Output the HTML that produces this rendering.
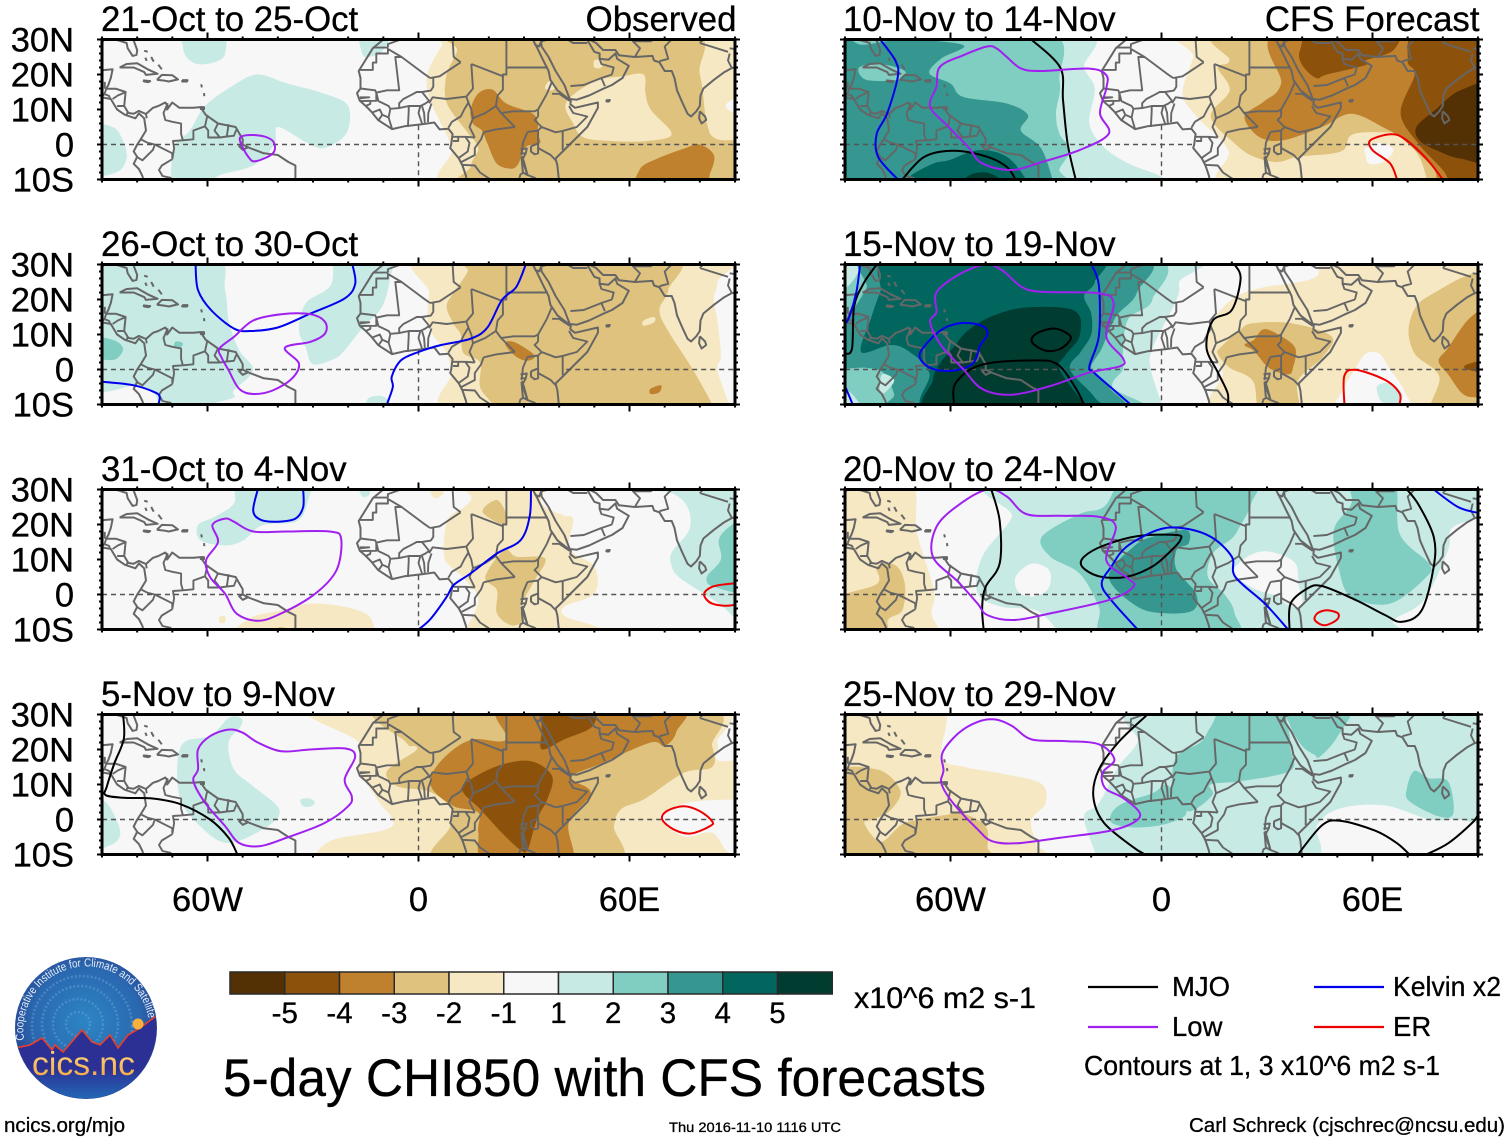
<!DOCTYPE html>
<html lang="en">
<head>
<meta charset="utf-8">
<title>5-day CHI850 with CFS forecasts</title>
<style>
html,body{margin:0;padding:0;background:#fff;}
svg{display:block;font-family:"Liberation Sans",sans-serif;}
text{stroke:#000;stroke-width:0.3px;}
</style>
</head>
<body>
<svg id="chart" xmlns="http://www.w3.org/2000/svg" width="1510" height="1142" viewBox="0 0 1510 1142">
<defs>
<clipPath id="panel-clip"><rect x="0" y="0" width="633" height="140"/></clipPath>
<clipPath id="logo-clip"><circle cx="86" cy="1028" r="70.5"/></clipPath>
<radialGradient id="logo-sky" cx="0.5" cy="0.45" r="0.58">
<stop offset="0" stop-color="#2c85c4"/><stop offset="0.65" stop-color="#2a68b0"/><stop offset="1" stop-color="#283c8c"/>
</radialGradient>
<linearGradient id="logo-low" x1="0" y1="0" x2="0" y2="1">
<stop offset="0" stop-color="#2c2f94"/><stop offset="0.55" stop-color="#2c2f94"/><stop offset="1" stop-color="#1f7cc2"/>
</linearGradient>
<linearGradient id="logo-word" x1="0" y1="0" x2="0" y2="1">
<stop offset="0" stop-color="#fde08a"/><stop offset="1" stop-color="#f2a13c"/>
</linearGradient>
<path id="logo-arc" d="M 24.2 1040 A 63 63 0 1 1 148.5 1019"/>
</defs>
<rect width="1510" height="1142" fill="#ffffff"/>
<g id="panels"></g>

<g id="colorbar"></g>
<text x="854" y="1008" font-size="30" textLength="182" lengthAdjust="spacingAndGlyphs">x10^6 m2 s-1</text>

<g>
<line x1="1088" y1="987" x2="1158" y2="987" stroke="#000" stroke-width="2.2"/>
<text x="1172" y="996" font-size="27.5">MJO</text>
<line x1="1314" y1="987" x2="1384" y2="987" stroke="#0000ee" stroke-width="2.2"/>
<text x="1393" y="996" font-size="27.5" textLength="108" lengthAdjust="spacingAndGlyphs">Kelvin x2</text>
<line x1="1088" y1="1027" x2="1158" y2="1027" stroke="#a020f0" stroke-width="2.2"/>
<text x="1172" y="1036" font-size="27.5">Low</text>
<line x1="1314" y1="1027" x2="1384" y2="1027" stroke="#ee0000" stroke-width="2.2"/>
<text x="1393" y="1036" font-size="27.5">ER</text>
<text x="1084" y="1075" font-size="27.5" textLength="356" lengthAdjust="spacingAndGlyphs">Contours at 1, 3 x10^6 m2 s-1</text>
</g>

<text x="223" y="1096" font-size="53" textLength="763" lengthAdjust="spacingAndGlyphs">5-day CHI850 with CFS forecasts</text>
<text x="4" y="1132" font-size="20.5" textLength="121" lengthAdjust="spacingAndGlyphs">ncics.org/mjo</text>
<text x="669" y="1132" font-size="13.5" textLength="172" lengthAdjust="spacingAndGlyphs">Thu 2016-11-10 1116 UTC</text>
<text x="1189" y="1132" font-size="20.5" textLength="316" lengthAdjust="spacingAndGlyphs">Carl Schreck (cjschrec@ncsu.edu)</text>

<g>
<circle cx="86" cy="1028" r="71" fill="url(#logo-sky)"/>
<g clip-path="url(#logo-clip)">
<g fill="none" stroke="#6fa9d8" stroke-width="2.5" stroke-dasharray="2 2" opacity="0.45">
<circle cx="78" cy="1024" r="12"/><circle cx="78" cy="1024" r="25"/><circle cx="80" cy="1024" r="38"/><circle cx="82" cy="1026" r="50"/>
</g>
<path d="M15 1048 L30 1045 L42 1038 L52 1050 L55 1045 L63 1052 L82 1030 L92 1042 L100 1045 L110 1035 L118 1048 L128 1035 L140 1028 L156 1016 L160 1110 L10 1110 Z" fill="url(#logo-low)"/>
<path d="M15 1048 L30 1045 L42 1038 L52 1050 L55 1045 L63 1052 L82 1030 L92 1042 L100 1045 L110 1035 L118 1048 L128 1035 L140 1028 L156 1016" fill="none" stroke="#e8402a" stroke-width="1.6"/>
<circle cx="138" cy="1024" r="5.5" fill="#fbb03b"/>
</g>
<text font-size="11.5" fill="#e6eef8" style="stroke:none"><textPath href="#logo-arc" textLength="202" lengthAdjust="spacingAndGlyphs">Cooperative Institute for Climate and Satellites</textPath></text>
<text x="32" y="1075" font-size="33" fill="url(#logo-word)" style="stroke:none" textLength="103" lengthAdjust="spacingAndGlyphs">cics.nc</text>
</g>
</svg>

<script>
// ---------- axes and labels ----------
const panelTitles = ["21-Oct to 25-Oct","26-Oct to 30-Oct","31-Oct to 4-Nov","5-Nov to 9-Nov","10-Nov to 14-Nov","15-Nov to 19-Nov","20-Nov to 24-Nov","25-Nov to 29-Nov"];
const latTicks = [30,20,10,0,-10];
const latTickLabels = ["30N","20N","10N","0","10S"];
const lonTicks = [-60,0,60];
const lonTickLabels = ["60W","0","60E"];
const colorLevels = [-5,-4,-3,-2,-1,0,1,2,3,4,5];
const colorValues = ["#543005","#8c510a","#bf812d","#dfc27d","#f6e8c3","#f7f7f7","#c7eae5","#80cdc1","#35978f","#01665e","#003c30"];
const colorbarLabels = ["-5","-4","-3","-2","-1","1","2","3","4","5"];
const seriesNames = ["mjo","kelvin","low","er"];
const seriesColors = ["#000000","#0000ee","#a020f0","#ee0000"];

// ---------- shading per panel: [level, [lon,lat,...]] painted in order ----------
const fillsA = [
[1,[-67,33,-56,33,-55,26,-58,23.5,-63,23,-66,25,-67,28]],
[1,[-69.5,-13,-69.5,-1,-65,4,-60.7,11,-52.5,17,-45.7,20,-37.5,17.5,-26.7,14.5,-20,11,-20.5,3.2,-26.7,-1,-32,0.7,-40,5,-41,0,-47,-6,-57,-9,-60,-13]],
[1,[-94,5,-87,5,-84,1,-83,-4,-86,-8,-94,-8]],
[1,[-16.5,33,-8,33,-10,27,-14,25,-16,26]],
[-1,[9.4,33,6.7,28.4,2.6,20.3,3.3,12.7,9.4,-0.7,12,-13,95,-13,95,33]],
[-2,[10,33,11,27,8,20,8,12,13.5,4,17,-1,15,-6,17,-13,95,-13,95,0,85,1.5,82,6,80,20,75,33]],
[-1,[42,12,50,18,58,19.5,64,20,64.5,15,66,10,72,3,65,1,55,1,47,2,44,6]],
[-1,[50,24,52,24,52,22,50,22]],
[-1,[37,18,39,17,38,15.5,36,16]],
[0,[93,14,88,12,88,10,93,8]],
[-3,[14.8,9.8,17,14.6,21,15.7,25,11.7,33,8.4,34,3,34.5,0.3,30.5,-0.7,28.4,-5.5,26.4,-6.9,22.3,-5.5,19.6,0.3,18,4,15.5,6]],
[-3,[63,-13,63,-7,68,-4,76,-1,80,0,84,-3,83,-8,80,-13]]
];
const fillsB = [
[1,[-94,33,-59,33,-55,22.7,-54,14,-51,5.5,-47,-0.2,-52.5,-6,-52.5,-8,-59,-10,-62,-13,-72,-13,-75,-7,-80,-4.5,-94,-3.5]],
[2,[-94,9,-87,8.5,-84,6,-86,3,-90,2.8,-94,3]],
[2,[-69,8,-67,7.5,-68,6,-69.5,6.5]],
[1,[-22.6,33,-8,33,-8,26.5,-10.3,18,-15.8,12,-21,5.5,-24,3,-30,1.5,-32,6,-34,11.5,-32,19,-25,24]],
[1,[-14.5,-13,-14.5,-8.5,-11,-7.5,-8.5,-9,-8,-13]],
[-1,[4,33,3,22,2.6,14,4,10,8,4.7,9.4,-1,12,-13,90,-13,88,-9,85,0,86,4,85,14,84,20,85,25,84,33]],
[-2,[15,33,14,28,10,22,8,18,10,13,12,10,12.8,4.7,17.5,2,17.5,-5,21,-10,21,-13,84,-13,83.5,-10,78,0,71,11,68.5,17,71,22.7,71,33]],
[-1,[64,14,67,15,67,13.5,64,12.5]],
[-3,[25,8,28,7.5,33,4,31,2.5,28,3.5,25,6.5]],
[-3,[66,-5.5,69,-4.5,68.5,-6.5,66,-7]]
];
const fillsC = [
[1,[-50.5,33,-32,33,-32,25,-35,20.8,-44.4,19.8,-49.8,15.5,-55,14,-62,15.5,-62.7,19.8,-58,22.2,-52.5,26]],
[1,[-17,31,-14,31,-14,28.5,-16,28]],
[1,[65,33,65,30,72,29,76.5,25,77,18.5,72,12,72,8,74,5,81,0.3,86,-3,90,-6.5,94,-7,94,33]],
[2,[94,21,90,20.5,85.5,16,86,10,82,5,84,2.2,94,2]],
[-1,[7.3,16.5,8.7,22,13,25,15,28,11,33,34,33,35,26,41,22.7,44,21.5,43,13,50,8,50,0.3,41.4,-3.5,42,-6.4,50,-9,57,-13,12,-13,13.5,-10,17,-1.6,13.5,4,8.7,8.4,7.3,10.8]],
[-1,[3.5,33,3.5,29,5,27.5,7,29,7,33]],
[-1,[-50.5,-13,-48.4,-7,-39,-4.5,-30.7,-2.6,-21,-3.5,-14.4,-5.9,-12.4,-10,-12,-13]],
[-1,[-56.5,-6.3,-55,-6.3,-55,-8,-56.5,-8]],
[-2,[18.2,23.6,22.3,27,25,22.7,24.4,19.8]],
[-2,[24.4,12.7,27.8,10.8,36,10.3,33,4,29,-3.5,30,-7.3,26.4,-8.8,22.3,-5.4,22.3,1.2,19,5]],
[-2,[-41,-13,-40,-9.5,-37,-10,-36,-13]]
];
const fillsD = [
[1,[-94,6,-89,5,-85.5,-1,-85,-5,-88,-7.5,-94,-8]],
[1,[-94,33,-90,33,-90,20,-94,20]],
[1,[-54,29,-59,24,-67.5,21,-68,6.7,-62,-2,-54,-6.7,-43,-2,-39.6,2.9,-47,9.5,-52.5,14.3,-54,22,-50.5,26.7,-50.5,29]],
[1,[-33.5,5.7,-31,6,-29.5,4.8,-31,3.6,-33,4]],
[-1,[-26.7,33,-17,22,-17,14.3,-11.7,5.7,-7.6,-2,-24,-5.7,-29.4,-10,-31,-13,95,-13,95,14,85,17,85,22,79.5,33]],
[0,[68.6,0.9,76.7,4.8,89.7,5.7,95,5,95,-9,88.3,-9.5,83.5,-3.8,75.4,-4.8]],
[-2,[-8,33,-3.5,22,-1,21,-1,19.5,-9,13.8,-6,9.5,3,8,9.4,3.3,9,-2,6,-13,55,-13,55.6,-2,57.7,3,64.5,6,75.4,13.3,83.5,15,83.5,21,78.8,33]],
[-3,[25,33,25,22.9,15.5,22.9,8.7,19,4,13.3,4,8.6,10,3.8,17,2,17,-3.8,19.6,-13,42.7,-13,42.7,-1,49,7.6,43.4,12,52,16,66,22,70,21,73.3,25,72.7,33]],
[-4,[13.5,10.5,22.3,15.2,31.8,16.7,38,12.4,36.6,5.7,34.6,2,33,-2,31,-8.7,29,-8.7,23.7,-3.8,17.5,3,12.8,7.6]],
[-4,[36.6,33,49.5,33,49.5,26.7,41.4,22.9,35.2,20,35,24.8]]
];
const fillsE = [
[1,[-94,33,-24,33,-22,22,-19,16,-20.5,6,-16.4,-0.7,-9.5,-5.4,0,-9.2,3,-13,-94,-13]],
[2,[-94,33,-34,33,-29,18.4,-30,9,-29,3,-26,-1.6,-29,-7,-31,-13,-94,-13]],
[3,[-94,29,-85,28.5,-73,30,-56.4,28.4,-62.6,24.6,-66,20.3,-60,17.4,-56.4,13.6,-44,11.7,-38,8.4,-40,4,-34.3,-1,-31,-10,-31,-13,-94,-13]],
[2,[-86,22,-80,23,-73,21,-75,18.5,-84,18.5]],
[4,[-72,-13,-72,-9.5,-65,-5.5,-60.5,-4.5,-52,-1.6,-44,-3.5,-38.5,-10,-38,-13]],
[5,[-57,-13,-55,-9,-50,-8,-46,-10,-46,-13]],
[-1,[10,33,9,25,6,14.6,10,8,19,-1.6,21,-13,95,-13,95,33]],
[0,[58,-1,62,0.5,66,-1.5,63,-5,59,-5.5,58,-3]],
[-2,[19,33,19.4,24,16,22,19.4,15.5,14,8,20.8,0.3,26.3,-3.5,33,-5,38.8,-3.5,51,-2,54,2.7,62,3.5,68,2.5,73,-3,75.3,-9.2,76,-13,95,-13,95,33]],
[-3,[34.6,33,34,17.4,29,12.2,23.6,8,27.7,2.2,34.6,1.2,45.6,5,54,8.8,63.6,4.6,69,1.2,77.4,-7,80,-13,95,-13,95,33]],
[-4,[73,33,70,24,72,20,68,9,73,0.3,80,-7.3,84,-13,95,-13,95,33]],
[-4,[39.4,27,44,33,66,33,66,27,58,24,58,22.7,47,20,44,19,40,22.7]],
[-5,[95,16.5,85,15.5,78,10,72.5,5,73.5,1,79,-2,85,-4,95,-4]]
];
const fillsF = [
[1,[-94,33,5.7,33,5,25,4.3,20,-2.6,6,-3,0,0,-10,0,-13,-94,-13]],
[2,[-94,33,-6,33,-2.6,20,-9.5,14.3,-11,4.7,-11,0,-14,-5,-8,-13,-94,-13]],
[1,[-94,33,-85,33,-88,25,-94,22]],
[1,[-94,-4,-88,-7,-85,-13,-94,-13]],
[3,[-80,33,-84,23,-90,14,-94,10,-94,1,-84,0.5,-79,-1,-76,-7,-75,-13,-14,-13,-15,-5,-20,0,-17,6,-13,15,-7,22,-8,33]],
[1,[-79,-1.2,-76,-3,-78,-6,-80,-7,-80,-3]],
[4,[-75,33,-80,22,-82.6,14.6,-85.4,5,-77,7,-71.6,5,-66,-1,-65.4,-13,-18,-13,-19,-8,-26,0,-23,5,-20,10,-20,16,-22,21,-19,25,-20,33]],
[5,[-48,15.3,-38.5,17.7,-24.7,16.8,-23.3,9.6,-27.4,4,-29,0,-22,-10,-21,-13,-65,-13,-65,-3,-63,1.7,-59,6.5,-55,11.2]],
[-1,[19.4,-13,17.4,-0.8,12.6,6.2,14.6,13.9,20.8,20.6,29,23.5,36,24.5,44,26.5,50,33,95,33,95,-13]],
[0,[50,-13,52,-5,55,0,58,4.5,62,4.5,65,0,69,-6,70,-13]],
[1,[61.5,-4.5,65,-4,68.5,-7,67,-10,63,-9.5,61.5,-7]],
[-2,[16.7,6.2,22,11,26,13.2,37,13.2,48.4,9.4,45.7,3.4,38.8,-3.3,38.8,-13,28.4,-13,26,-3.3,19.4,0.5,16,4.4]],
[-2,[95,26,76,21,70.5,13.2,71.9,4.7,79,-2,77,-13,95,-13]],
[-3,[26.3,8.5,29,11.5,33.2,10,38,6.2,37.4,0.5,36,-1.4,30.5,0.5,26.3,5.3,23.6,7]],
[-3,[95,17,88,15,81.5,6.2,78.8,2.4,81.5,-1.4,85.7,-7,90,-8,95,-8]],
[-4,[95,3,87,1.5,87,0,95,-1]]
];
const fillsG = [
[1,[-40.5,33,-42.6,22,-51,10.8,-52.3,0.3,-45.4,-3.5,-35.7,-4.5,-30,-10,-30,-13,62,-13,66,-7.3,74.6,-1.6,81.5,12.7,83,19.3,95,24,95,33]],
[0,[-41.5,5,-37,8.8,-32,7,-32,2,-36,-0.5,-40.5,0.5]],
[0,[20.5,6,22,9,27,12,32,12,38,9,39,3,40,-3,36,-3,33,-0.5,28,1,24,3]],
[2,[-34,16.5,-23.3,23,-16.4,25,-8,33,25,33,25.5,26,22.2,19.3,20,16,14.6,11.7,13.2,5,18,0,20.8,-5.4,20,-13,-15,-13,-17.8,-3.5,-23.3,6,-31.6,10.8]],
[2,[54,33,66,33,67.7,17.4,76,8.9,75.3,5,65,-2.6,54,-0.7,50.5,7,49,18.4,54,26]],
[3,[-15,5,-8,13.6,-2.6,16.5,7,18.4,7.7,14.6,4.3,12.7,4.3,7,9.8,0.3,9,-4.5,1.5,-5.4,-6.8,-3.5]],
[-1,[-94,33,-72,33,-69.5,17.4,-64.7,1.2,-65.4,-5.4,-63.3,-10,-63,-13,-94,-13]],
[-2,[-94,-2,-81,3,-81,8,-75.7,8.4,-73,3.1,-73.7,-4.5,-77.8,-7.3,-78.5,-13,-94,-13]],
[-1,[94,3,90,0,94,-3]]
];
const fillsH = [
[-1,[-94,33,-63.3,33,-62.6,18,-56,15,-45.4,13.1,-34.3,10.3,-33,4.6,-37,-0.2,-35.7,-6.9,-34.3,-13,-94,-13]],
[-2,[-94,12,-81,14.3,-74.3,8.4,-77,2.7,-82,0,-84.5,-1,-81,-6,-78.5,-5.8,-74,-1.5,-70,-0.2,-62,1.2,-56.4,1.7,-50,-2,-49.5,-7.8,-50.6,-13,-94,-13]],
[1,[-2.6,33,-6.8,22,-12.3,15,-17.8,4.6,-22,0.8,-18.7,-10,-18,-13,40,-13,44.3,-1.6,51,3.2,63.6,4,76,0.1,83,0.1,94,2,94,33]],
[2,[18.8,33,33,33,36,26,36.7,20,36.7,14,22.9,11,14,10,14.5,7,8.4,2.4,3.6,4.6,2.9,10,4.3,18,11,22,14,26.5]],
[2,[-14.3,1.6,-11,4.6,-2.6,7.5,1.5,9.9,4.3,6,7,1.6,1.5,-1.2,-6.8,-2.3,-13.7,-1.2]],
[2,[36,33,53.7,33,50,23.6,45,17.9,43.5,18.5,40,21,36.5,27]],
[2,[71.9,13.9,76,11.8,81.5,10.9,83,1.8,78.8,0.9,70.5,5.2,69.8,9]]
];
const panelFills = [fillsA,fillsB,fillsC,fillsD,fillsE,fillsF,fillsG,fillsH];

// ---------- contour series per panel: [seriesIndex, closed(1)/open(0), [lon,lat,...]] ----------
const linesA = [
[2,1,[-50.5,2.2,-47,2.7,-43,2,-41,0.3,-41.5,-2.6,-46.4,-4.8,-48.4,-3.5,-50.5,0.3]]
];
const linesB = [
[1,0,[-63.4,30,-62.7,22.7,-59,17,-52.5,11.7,-47.8,11,-40,12,-30.7,16,-21,20.3,-18,24.5,-18.8,30]],
[1,0,[-90,-3.5,-81,-4.5,-75,-6.5,-73.6,-7.8,-74,-10]],
[1,0,[-9,-10,-7.3,-5,-7.6,-2,-5,2.6,0,5,6,6.9,14.8,8.8,19.6,12,23.7,19.8,27.8,23.6,30.5,30]],
[2,1,[-56.6,6,-52.5,9.3,-47,14,-39,15.8,-30.7,15.8,-26.6,13.6,-26.6,10.3,-30.7,7.9,-38,6.2,-34,1.7,-36,-2.6,-41.5,-6,-47,-7,-51,-5.5,-54,-0.2,-56,3.4]]
];
const linesC = [
[1,0,[-45.7,30,-47,24,-45,21.4,-40.3,20.8,-35,21.7,-32.8,25,-32.8,30]],
[1,0,[0,-10,3.4,-7,8,-0.7,10,2.7,14.8,6,22.3,11.7,29,15.5,31.6,22.2,32,30]],
[2,1,[-55,21.7,-58.6,19.8,-57,15,-60.4,9.8,-59.3,5,-55,0.2,-51.8,-5.4,-45.7,-7.5,-39,-5.4,-29.4,0.2,-23.3,7,-22,16,-25.3,18,-37.5,18,-47,18,-52.5,20.8]],
[3,1,[89,3.1,83.5,2.2,81.2,0,83.5,-2.6,89,-3.1,93,-1,93,3]]
];
const linesD = [
[0,0,[-84,30,-83.8,23,-86.5,16,-88.6,9.5,-89,7,-83.8,6.2,-75.6,6,-67.5,4.3,-59.3,0,-54,-5.2,-51.5,-10]],
[2,1,[-54,25.7,-59.3,23.8,-62.7,20,-62.7,14.3,-64,11,-60.7,4.8,-55,-1.9,-51,-6.7,-45,-7.6,-37.5,-5.2,-26.7,-1,-20,3.8,-19,6.7,-21,11.4,-18,18,-21,20.3,-30.7,20,-39,19.5,-45.7,22,-50,24.8]],
[3,1,[75.4,3.8,70.6,2.4,69.3,0,72.7,-2.9,77.4,-4,82.9,-1.9,83.5,-0.5,80,2.4]]
];
const linesE = [
[1,0,[-80,30,-75.7,24,-75,19.3,-78,8.9,-81,3,-80.6,-3.5,-75,-10]],
[0,0,[-37,30,-28.8,22,-28,12.7,-26.7,0.3,-24.4,-10]],
[0,0,[-73.7,-10,-67.4,-3.5,-59,-1.8,-49.6,-3.5,-44,-6.4,-41.5,-10]],
[2,1,[-49.6,28,-56.4,25.5,-63,22.2,-64,16.5,-65.8,10.8,-60.5,5,-55,-0.7,-51,-5.4,-42.6,-7.3,-34,-5,-23.3,-1.6,-15,3.1,-17.5,8.9,-15.7,16,-15.7,19.8,-20.5,21.7,-34.3,21,-39.9,21.7,-44,25,-46.8,27.4]],
[3,0,[67,-10,65,-5.4,60,-1.6,59.4,1.2,65,2.9,69,1.7,75.3,-4,80,-10]]
];
const linesF = [
[0,0,[-81,30,-84.7,24.6,-87.4,18,-88,6,-90,4.5]],
[1,0,[-85.7,30,-86.8,22,-88.8,15,-90,13]],
[1,0,[-90,-4.7,-87.8,-10]],
[1,0,[-19.9,30,-17.8,24,-17.8,9.6,-20.5,1,-19.2,-0.9,-13.7,-5.7,-8.8,-10]],
[1,1,[-56.4,13.3,-62,11.7,-66.8,7.4,-68.8,3.6,-65.4,0.3,-59.2,-0.3,-53.6,1.8,-51.6,6.7,-49.5,10,-50.9,12.4]],
[0,1,[-30.9,11.7,-35.7,10.2,-36.8,7.8,-33,5.4,-28.8,5.9,-25.8,8.8,-27.4,10.7]],
[0,0,[-59,-10,-58.5,-3.8,-51,1.4,-35.7,2.6,-29.5,1.4,-24.7,-4.8,-22,-10]],
[0,0,[20.8,30,22.5,26,20,17,14.6,14,12.8,6.2,16,-0.8,18.8,-6.7,18.8,-10]],
[2,1,[-50.2,30,-57.8,27,-64,22,-64,16.4,-65.8,13.5,-62.6,6.8,-56.4,0.1,-50.9,-5.6,-42.6,-7.2,-31.6,-4.7,-20.6,-0.9,-11.6,1,-11,3.3,-15.7,9.4,-13.6,18.9,-17.8,21.8,-34.3,22.2,-39.9,23.7,-45.4,28.4]],
[3,0,[52,-10,52,-1.8,55.3,-0.1,63.6,-3,67.7,-6.8,67.7,-10]]
];
const linesG = [
[0,1,[4.3,17,-6.8,16.7,-16.4,14,-22,10.8,-22.6,8,-17.8,5.2,-10.2,5,-2.6,8,2.9,12.7,5.4,15.7]],
[0,0,[-48.4,30,-46,21,-46,8.9,-50,2.2,-51,-3.5,-50.6,-10]],
[0,0,[36.4,-10,36.7,-2.6,41.5,1.7,45.7,2.4,55.3,-1.6,63.6,-5.9,68.4,-7.8,74,-4.5,77.4,7.9,77.4,16.5,73.2,25.5,69.8,30]],
[1,0,[-6.8,-10,-14.3,-1.6,-17,3.1,-14.3,7.9,-10,13.6,-1.2,18.4,5.7,19,14,16.5,20,10.8,21,5,29.4,-2.6,36,-10]],
[1,0,[77.4,30,84.3,25,90,23.3]],
[2,1,[-49.5,30,-57.8,25.5,-64,19.3,-65,10.8,-57.8,3.6,-52.3,-2.6,-49.5,-5.9,-42,-7.3,-31.6,-5.4,-15,-1.6,-8,2.2,-9.5,4.6,-15.7,9.8,-13,19.3,-17.8,22.2,-28.8,22.5,-38.5,23,-44,28]],
[3,1,[47,-4.5,44.3,-5.4,43.6,-7.3,46.3,-8.8,49.8,-7.3,50.2,-5.4]]
];
const linesH = [
[0,0,[-4,30,-12.3,22,-17.8,14.3,-19.4,6.6,-16.4,-0.9,-8.2,-7.8,-4.7,-10]],
[0,0,[38.8,-10,45.7,-1.6,51,-0.4,60.8,-3.2,67,-6.8,70.5,-10]],
[0,0,[75.3,-10,81.5,-6.8,88.4,-0.9,90,1.4]],
[2,1,[-47.4,28.6,-52.3,27.9,-57.8,24.6,-62.3,19,-62,14,-62.6,10.3,-59.2,4.6,-52.3,-2.8,-48.2,-6.2,-41.2,-6.8,-28.8,-5.2,-15,-3.3,-8,-0.9,-6.2,1.9,-11,6.2,-15.7,8.6,-17,11.5,-16.4,13.9,-13.4,17.2,-17.8,21.5,-27.4,22.4,-37,22.9,-42.6,26.8]]
];
const panelLines = [linesA,linesB,linesC,linesD,linesE,linesF,linesG,linesH];

// ---------- geography: coastlines and borders as lon,lat polylines ----------
const coastLines = [
[-90,29.3,-89,30.2,-85.5,29.8,-83,29,-82.7,27.5,-81.3,25.3,-80.2,25.6,-80,27,-81.3,30.5],
[-90,21.2,-87,21.5,-87.5,19,-88.2,17,-88.8,15.9,-86,15.9,-83.3,15,-83.7,11,-82.5,9,-81,8.8,-79.5,9.6,-77.5,8.7,-75.5,10.5,-74,11,-72,12,-71.3,11,-71.5,10,-70,12,-68,10.5,-64,10.5,-62,10.7,-60.5,8.5,-57,6,-52,5,-50,1.5,-50,0,-48,-1,-44,-2.5,-40,-3,-37,-5,-35,-6,-35,-11],
[-90,13.5,-87.5,13,-85.7,10,-83.5,8.5,-80.5,7.5,-79.5,8.9,-78,7.5,-77.5,4,-79,1.5,-80,0,-81,-2,-80,-3.5,-81,-5.5,-79.5,-7,-78.5,-9,-78,-11],
[-85,22,-83,23,-80,23.2,-77,21.5,-74.2,20.2,-77.5,19.9,-78,20.7,-81,22,-83.5,22,-85,22],
[-74.4,18.5,-73,19.9,-70,19.8,-68.4,18.6,-71,18,-72,18.2,-74.4,18.5],
[-78.3,18.3,-76.3,18.1,-76.8,17.8,-78,18,-78.3,18.3],
[-67.2,18.4,-65.7,18.4,-65.8,18,-67.2,18,-67.2,18.4],
[-78,26.8,-77,26.5],[-77.7,24.8,-77.3,23.9],[-76,25,-75.3,23.7],[-74,22.8,-73,21.5],
[-61.8,17.2,-61.6,16.3],[-61,14.7,-60.9,13.8],
[-61.9,10.7,-61,10.7,-61,10.1,-61.9,10.1,-61.9,10.7],
[-50,0,-51,-0.5,-50,-1.5,-48.5,-0.8,-50,0],
[-10,31,-10,30,-13,27.5,-17,21,-16.5,19,-16.5,16,-17.5,14.7,-16.7,12.5,-15,11,-13.5,9.5,-11.5,7,-7.5,4.4,-4,5.2,1,5.8,4.5,6.3,6,4.3,8.5,4.5,9.7,3,9.3,0,9,-1,11.5,-4,12.5,-6,13.5,-9,13.8,-11],
[40,-11,39.5,-6,39,-4,41,-2,44,1,48,5,51,10.5,51,12,44.5,10.5,43.2,11.5,43.3,12.5,39.5,15.5,37.5,18.5,37,21,35.5,24,33.8,27.5,32.5,30,32.3,31],
[34.9,29.5,35,28,37,25,39,21,41.5,17,43,13,45,12.8,48.5,14,52,15.7,55,17,58,19,59.8,22.5,56.5,24.5,56,26,54,24.2,51.5,24.5,51.5,26,50,26.5,48.5,29,48,30],
[48.5,30,50.5,29,52.5,27,56,27,57,25.5,61.5,25,66.5,25.3,67,24,68.5,23.5,70,21,72,21,72.8,19,73.5,15.5,75,12,76.5,8.8,77.5,8,79,9.5,80,11,80.2,14,81,16,84,18.5,87,20.7,89,21.8,91.5,22.5],
[80,9.5,81.5,8,81.8,7,80.5,6,79.8,7.5,80,9.5],
[53.3,12.6,54.4,12.7,54.2,12.3,53.5,12.3,53.3,12.6],
[35.2,31,34.9,29.5,34.3,28,33.2,28.5,32.6,30],
[32,-0.5,34,0.3,34,-2.5,33,-2.8,32,-2,32,-0.5],
[29.3,-3.5,29.7,-8,31,-8.7,30,-5,29.5,-3.5,29.3,-3.5]
];
const borderLines = [
[-90,17.8,-91,16,-92,15],[-89.2,17.9,-89.2,15.9],[-89.3,14.4,-88,13.9,-87.7,13.3],[-88.8,15.9,-89.3,14.4,-90,13.8],
[-87,13,-85.5,14,-83.2,15],[-85.7,11,-83.7,11],[-83,8.5,-82.6,9.5],[-77.5,8.7,-77.3,7.5],
[-71.3,11.8,-72.5,9,-72,7,-70,6.5,-67.5,6,-67.5,3,-67,1.2],[-67,1.2,-69.8,1,-69.5,-1,-70,-4.2],
[-70,-4.2,-70,-2.5,-75,0,-77,0.5,-78.8,1.4],[-75,0,-75.5,-1.5,-78.5,-4.5,-80.3,-3.4],
[-70,-4.2,-73,-6,-73.8,-7.3,-72.8,-9,-70.5,-9.5,-70.5,-11],[-67,1.2,-64,1.5,-64,4,-60.7,5.2],
[-60.7,5.2,-60,8.5],[-60.7,5.2,-59.8,4,-59.8,2,-56.5,2],[-57,6,-58,4,-56.5,2],[-54,5.8,-54.5,2.3,-56.5,2],
[-51.8,4.2,-52.5,2.5,-54.5,2.3],[-69,-11,-66,-9.8,-65.3,-11],
[-8.7,27.7,-8.7,28.7,-5,30,-3,31,-1.3,32],[8,32,9,30.2],[9.7,31,9.7,30,10,25,12,23.5],
[12,23.5,6,19.5,3.3,19],[3.3,19,1.2,20.5,-4.8,25],[-13,27.7,-8.7,27.7],
[-17,21.3,-13,21.3,-13,23.4,-12,23.4,-12,26,-8.7,26,-8.7,27.3,-4.8,25,-6.6,25,-5.5,15.5,-9,15.5,-12,14.8,-12.3,15.5,-16.5,16],
[-12,14.8,-11.4,12.4,-8.5,11,-8,10.2],
[-8,10.2,-5.5,10.4,-5.5,11.8,-4.3,13,-2,14.2,-0.5,15,1,15,3.5,15.4,4.2,16.5,4.2,19],
[-12,14.8,-12,12.5,-16.7,12.4],[-16.7,13.5,-14,13.5,-16.7,13.2],[-16.7,12.4,-13.7,12.5,-13.7,11.6,-15,11],
[-13.2,9.1,-11,10,-10.3,8.5,-11.4,6.9],[-8.5,7.7,-7.5,4.4],[-10.3,8.5,-8.5,7.7,-8,10.2],
[-3,5,-2.8,9.5,-2.8,11],[0.5,11,0,9,1,6],[-5.5,10.4,-2.8,11,0.5,11,2,11.7,3,12.5,1,15],
[1,11,1.6,9,1.8,6.2],[3.7,11.7,2.8,9,2.7,6.4],[3,11.8,4,13.5,8,13,13.6,13.7],
[8.5,4.8,9.5,6.5,12,8,13,10,14.2,12,13.6,13.7],[13.6,13.7,15.5,16,15,23],[15,23,24,19.5],
[24,19.5,24,15.7,22.5,14,22,11],[22,11,19,9,15.5,7.5],[15.5,7.5,15,10,14.2,12],[15.5,7.5,14.5,5,16,2],
[16,2,13.3,2.2,9.8,2.2],[9.8,1,11.3,1,11.3,2.2],[13.3,2.2,14.5,0.5,14,-2,11.5,-3.8],
[12.2,-5,16,-3,16,-1,17.8,1.5,18.5,3.5],[18.5,3.5,22,4.3,27.4,5],[22,11,23.5,9,27.4,5],
[23.5,9,27,9.5,33,9.5,34,10],[36.5,14.5,34,10,34,8],[34,8,33,7,35,5,34,4,31,3.6],
[31,3.6,29.7,0.5,29.5,-1.5,29.3,-3],[34,4,34,0],[34,-1,37.6,-3,39.2,-4.7],[41,-1.6,41,3.9],
[35,5,39,3.5,41,3.9],[41,3.9,45,5,48,8,44,9,42.8,11],[36.5,14.5,38,18],[38,14.5,40,14.5,43,12.5],
[25,22,36.8,22],[25,32,25,20,24,20,24,19.5],[29,-1.4,30.8,-1.1,30.5,-2.5,29,-2.5],[30.5,-2.5,29.5,-4.4],
[29.5,-4.4,31,-8.7,33,-9.5,34.5,-10.5],[12.2,-5.8,16,-6,17.5,-8,22,-11],[22,-11,28,-12,29,-8.5,30,-8],
[43.2,16.7,47,17,52,19,55,20],[53,16.7,52,19],[55,20,55.5,22,52,23,51.5,24.5],
[39,32,44,29,46.5,29,48,29],[35,29.5,37,30,38,31.5],[48,30,48,32],
[61.5,25,63,27.5,61,29.5,66,29.5,70,32],[68.5,23.8,71,24.5,70,28,74,32],[78,32,81,30,80,29],
[80,29,88,26.5],[88.5,26,88,24,89,22],[88.5,27.5,92,27]
];

// ---------- axis functions ----------
const panelW = 633, panelH = 140;
const columnX = [102,845];
const rowY = [39.5,264.5,489.5,714.5];
function xOf(lon){ return (lon + 90) / 180 * panelW; }
function yOf(lat){ return (30 - lat) / 40 * panelH; }
function colorOf(level){ return colorValues[colorLevels.indexOf(level)]; }

const NS = "http://www.w3.org/2000/svg";
function make(tag, parent){
  const el = document.createElementNS(NS, tag);
  parent.appendChild(el);
  return el;
}
function project(flat){
  const pts = [];
  for (let i = 0; i < flat.length; i += 2) pts.push([xOf(flat[i]), yOf(flat[i + 1])]);
  return pts;
}
function smoothPath(flat, closed){
  const p = project(flat), n = p.length;
  const at = i => closed ? p[(i + n) % n] : p[Math.max(0, Math.min(n - 1, i))];
  let d = "M" + p[0][0].toFixed(1) + " " + p[0][1].toFixed(1);
  const segs = closed ? n : n - 1;
  for (let i = 0; i < segs; i++){
    const a = at(i - 1), b = at(i), c = at(i + 1), e = at(i + 2);
    const c1x = b[0] + (c[0] - a[0]) / 6, c1y = b[1] + (c[1] - a[1]) / 6;
    const c2x = c[0] - (e[0] - b[0]) / 6, c2y = c[1] - (e[1] - b[1]) / 6;
    d += "C" + c1x.toFixed(1) + " " + c1y.toFixed(1) + " " + c2x.toFixed(1) + " " + c2y.toFixed(1) + " " + c[0].toFixed(1) + " " + c[1].toFixed(1);
  }
  return closed ? d + "Z" : d;
}
function polyPath(list){
  let d = "";
  list.forEach(flat => {
    project(flat).forEach((pt, i) => { d += (i ? "L" : "M") + pt[0].toFixed(1) + " " + pt[1].toFixed(1); });
  });
  return d;
}
const coastPath = polyPath(coastLines);
const borderPath = polyPath(borderLines);

const panelsRoot = document.getElementById("panels");

panelTitles.forEach((title, idx) => {
  const col = idx < 4 ? 0 : 1;
  const row = idx % 4;
  const g = make("g", panelsRoot);
  g.setAttribute("transform", "translate(" + columnX[col] + "," + rowY[row] + ")");
  
  

  const inner = make("g", g);
  inner.setAttribute("clip-path", "url(#panel-clip)");
  
  

  const bg = make("rect", inner);
  bg.setAttribute("width", panelW);
  bg.setAttribute("height", panelH);
  bg.setAttribute("fill", colorOf(0));
  
  

  panelFills[idx].forEach(f => {
    const p = make("path", inner);
    p.setAttribute("d", smoothPath(f[1], true));
    p.setAttribute("fill", colorOf(f[0]));
    
    
  });

  const coast = make("path", inner);
  coast.setAttribute("d", coastPath);
  coast.setAttribute("fill", "none");
  coast.setAttribute("stroke", "#666666");
  coast.setAttribute("stroke-width", "2");
  coast.setAttribute("stroke-linejoin", "round");
  
  

  const border = make("path", inner);
  border.setAttribute("d", borderPath);
  border.setAttribute("fill", "none");
  border.setAttribute("stroke", "#666666");
  border.setAttribute("stroke-width", "1.9");
  border.setAttribute("stroke-linejoin", "round");
  
  

  const grid = make("path", inner);
  grid.setAttribute("d", "M" + xOf(-90) + " " + yOf(0) + "L" + xOf(9.3) + " " + yOf(0) + "M" + xOf(42) + " " + yOf(0) + "L" + xOf(90) + " " + yOf(0) + "M" + xOf(0) + " " + yOf(5.5) + "L" + xOf(0) + " " + yOf(-10));
  grid.setAttribute("fill", "none");
  grid.setAttribute("stroke", "#555555");
  grid.setAttribute("stroke-width", "1.4");
  grid.setAttribute("stroke-dasharray", "5 4");
  
  

  panelLines[idx].forEach(l => {
    const p = make("path", inner);
    p.setAttribute("d", smoothPath(l[2], l[1] === 1));
    p.setAttribute("fill", "none");
    p.setAttribute("stroke", seriesColors[l[0]]);
    p.setAttribute("stroke-width", "2");
    
    
  });

  // ticks
  let tickD = "";
  for (let lat = -10; lat <= 30; lat += 2){
    const len = lat % 10 === 0 ? 5 : 3;
    tickD += "M" + (-len) + " " + yOf(lat) + "L0 " + yOf(lat) + "M" + panelW + " " + yOf(lat) + "L" + (panelW + len) + " " + yOf(lat);
  }
  for (let lon = -90; lon <= 90; lon += 10){
    const len = lon % 60 === 0 ? 7 : 3;
    tickD += "M" + xOf(lon) + " " + (-len) + "L" + xOf(lon) + " 0M" + xOf(lon) + " " + panelH + "L" + xOf(lon) + " " + (panelH + len);
  }
  const ticks = make("path", g);
  ticks.setAttribute("d", tickD);
  ticks.setAttribute("stroke", "#000");
  ticks.setAttribute("stroke-width", "2");
  ticks.setAttribute("fill", "none");
  
  

  const frame = make("rect", g);
  frame.setAttribute("width", panelW);
  frame.setAttribute("height", panelH);
  frame.setAttribute("fill", "none");
  frame.setAttribute("stroke", "#000");
  frame.setAttribute("stroke-width", "3");
  
  

  const t = make("text", g);
  t.setAttribute("x", col === 0 ? "-1" : "-2");
  t.setAttribute("y", "-8.5");
  t.setAttribute("font-size", "34.8");
  t.textContent = title;
  
  

  if (col === 0){
    latTicks.forEach((lat, i) => {
      const lab = make("text", g);
      lab.setAttribute("x", "-28");
      lab.setAttribute("y", yOf(lat) + 12);
      lab.setAttribute("font-size", "34.5");
      lab.setAttribute("text-anchor", "end");
      lab.textContent = latTickLabels[i];
      
      
    });
  }
  if (row === 3){
    lonTicks.forEach((lon, i) => {
      const lab = make("text", g);
      lab.setAttribute("x", xOf(lon));
      lab.setAttribute("y", panelH + 56.5);
      lab.setAttribute("font-size", "34.5");
      lab.setAttribute("text-anchor", "middle");
      lab.textContent = lonTickLabels[i];
      
      
    });
  }
  if (idx === 0 || idx === 4){
    const tag = make("text", g);
    tag.setAttribute("x", panelW + 1.5);
    tag.setAttribute("y", "-8.5");
    tag.setAttribute("font-size", "34.8");
    tag.setAttribute("text-anchor", "end");
    tag.textContent = idx === 0 ? "Observed" : "CFS Forecast";
    
    
  }
});

// ---------- colorbar ----------
const barRoot = document.getElementById("colorbar");
const barX0 = 230, barW = 54.75, barY = 972, barH = 22;
colorValues.forEach((c, i) => {
  const r = make("rect", barRoot);
  r.setAttribute("x", barX0 + i * barW);
  r.setAttribute("y", barY);
  r.setAttribute("width", barW);
  r.setAttribute("height", barH);
  r.setAttribute("fill", c);
  r.setAttribute("stroke", "#2a2a2a");
  r.setAttribute("stroke-width", "1.5");
  
  
});
colorbarLabels.forEach((txt, i) => {
  const lab = make("text", barRoot);
  lab.setAttribute("x", barX0 + (i + 1) * barW);
  lab.setAttribute("y", "1023");
  lab.setAttribute("font-size", "29.5");
  lab.setAttribute("text-anchor", "middle");
  lab.textContent = txt;
  
  
});
</script>
</body>
</html>
